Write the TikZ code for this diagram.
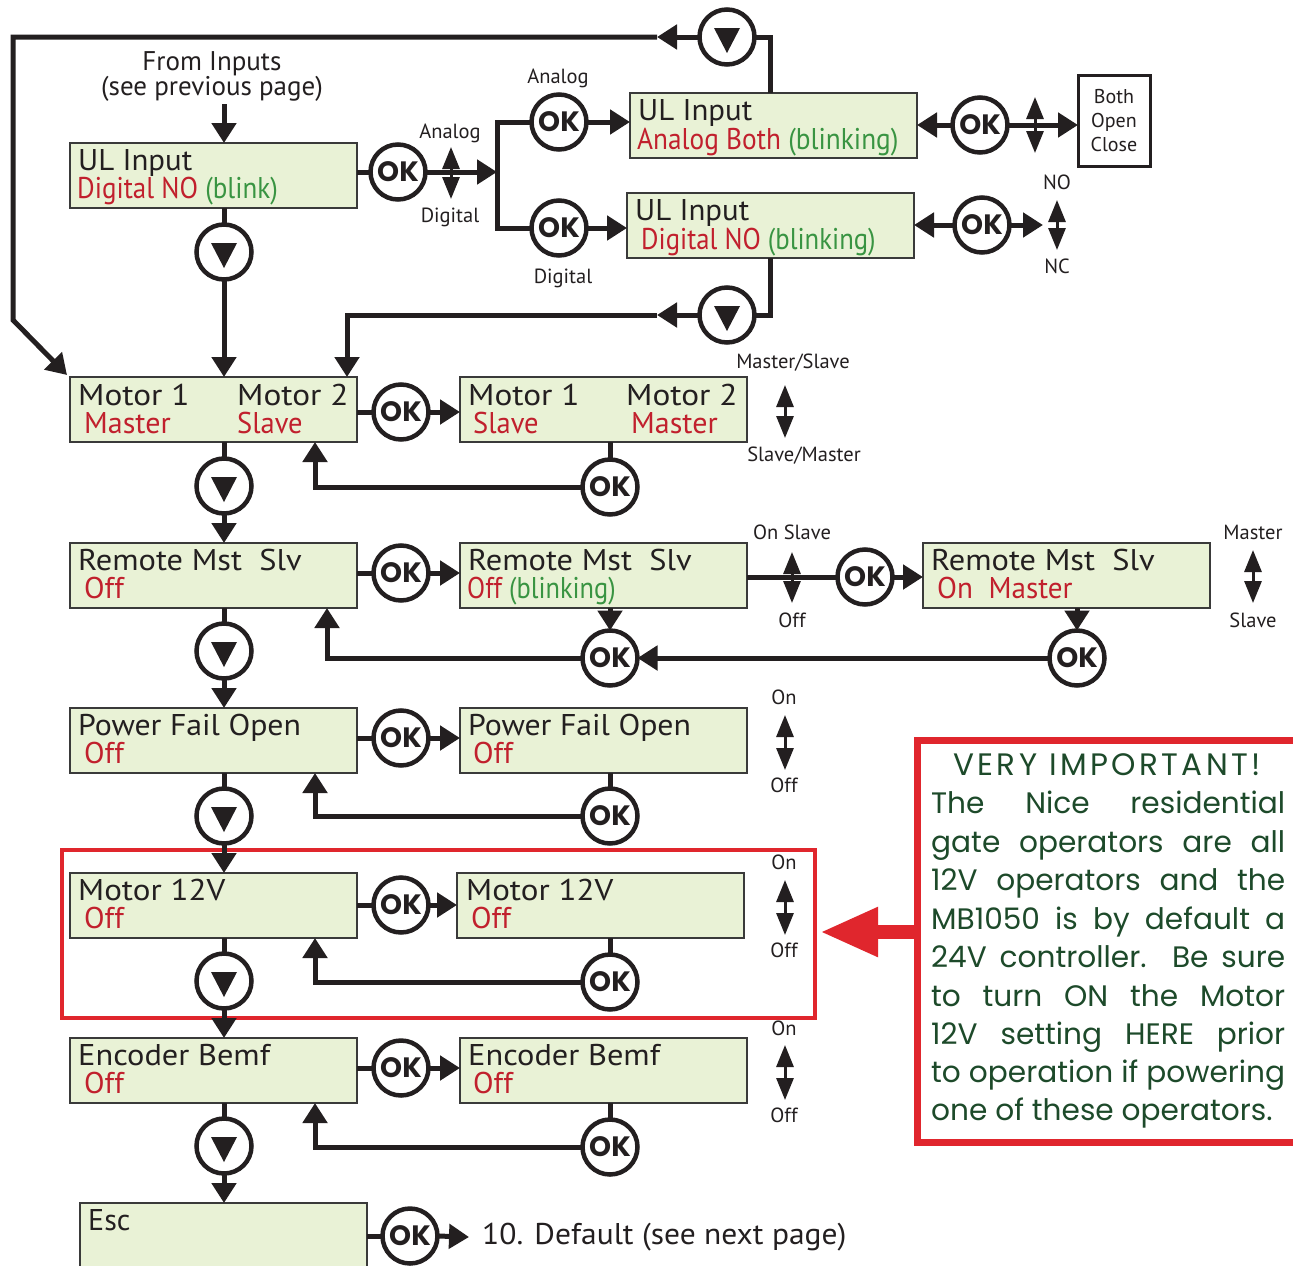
\documentclass[tikz,border=0pt]{standalone}
\usepackage{graphicx}
\usepackage{fontspec}
\setmainfont{PT Sans}
\newfontfamily\popf{Poppins}
\newfontfamily\popls{Poppins}[LetterSpace=11]
\usetikzlibrary{arrows.meta}
\definecolor{ink}{HTML}{231F20}
\definecolor{boxfill}{HTML}{E9F2D6}
\definecolor{boxline}{HTML}{3A3A3A}
\definecolor{lcdred}{HTML}{C1202D}
\definecolor{lcdgreen}{HTML}{399442}
\definecolor{alert}{HTML}{E0262D}
\definecolor{note}{HTML}{1D4A2A}
\newcommand\downmark[1]{\fill[ink] ([shift={(-13,-9)}]#1.center) -- ([shift={(13,-9)}]#1.center) -- ([shift={(0,16)}]#1.center) -- cycle;}
\newcommand\jline[1]{\makebox[354pt][s]{#1}}
\newcommand\redtx[1]{\textcolor{lcdred}{#1}}
\newcommand\grntx[1]{\textcolor{lcdgreen}{#1}}
\newcommand\hsc[2]{\scalebox{#1}[1]{#2}}
\tikzset{
  box/.style={draw=boxline,line width=2pt,fill=boxfill,anchor=north west,minimum width=287pt,minimum height=65pt,inner sep=0pt,outer sep=0pt},
  txt/.style={anchor=base west,inner sep=0pt,font=\fontsize{30}{30}\selectfont,text=ink},
  lbl/.style={anchor=base,inner sep=0pt,font=\fontsize{20.5}{20.5}\selectfont,text=ink},
  ok/.style={circle,draw=ink,fill=white,line width=4.5pt,minimum size=55pt,inner sep=0pt,outer sep=0pt,font=\popf\bfseries\fontsize{28}{28}\selectfont,text=ink},
  dn/.style={circle,draw=ink,fill=white,line width=4.5pt,minimum size=55pt,inner sep=0pt,outer sep=0pt},
  conn/.style={draw=ink,line width=5pt},
  arr/.style={conn,-{Triangle[length=20pt,width=24pt]}},
  dbl/.style={draw=ink,line width=3pt,{Triangle[length=22pt,width=17pt]}-{Triangle[length=22pt,width=17pt]}},
  notetx/.style={anchor=base west,inner sep=0pt,text=note,font=\popf\fontsize{29.6}{29.6}\selectfont},
}
\begin{document}
\begin{tikzpicture}[x=1pt,y=-1pt]
\useasboundingbox (0,0) rectangle (1293,1266);
\fill[white] (0,0) rectangle (1293,1266);

% column coordinates
\coordinate (xL) at (224,0);
\coordinate (xT) at (770,0);
\coordinate (xM2) at (347,0);
\coordinate (xRet) at (315,0);
\coordinate (xRet2) at (327,0);
\coordinate (fromEnd) at (224,104);

% red frame around Motor 12V
\node[draw=alert,line width=4.5pt,minimum width=753pt,minimum height=168pt,anchor=north west,inner sep=0pt,outer sep=0pt] (rf) at (62,850) {};

% ---------- top section ----------
\node[anchor=north,inner sep=0pt,align=center,text=ink,font=\fontsize{27}{24}\selectfont] (from) at (212,51) {From Inputs\\(see previous page)};

\node[box] (b1) at (70,143) {};
\node[txt] (b1t1) at (78,170) {\hsc{1.03}{UL Input}};
\node[txt] (b1t2) at (77,198) {\hsc{0.9}{\redtx{Digital NO} \grntx{(blink)}}};
\draw[arr] (fromEnd) -- (b1.north -| xL);

\node[ok] (ok1) at (398,172) {OK};
\draw[conn] (b1.east |- ok1) -- (ok1.west);
\coordinate (br) at (497,172);
\node[ok] (okA) at (559,122) {OK};
\node[ok] (okD) at (559,228) {OK};
\draw[conn] (okA.west) -| (br) |- (okD.west);
\draw[arr] (ok1.east) -- (br);
\draw[dbl] (451,147) -- (451,199);
\node[lbl] (lanalog1) at (450,138) {Analog};
\node[lbl] (ldigital1) at (450,222) {Digital};
\node[lbl] (lanalog2) at (558,83) {Analog};
\node[lbl] (ldigital2) at (563,283) {Digital};

\node[box] (an) at (630,93) {};
\node[txt] (ant1) at (638,120) {\hsc{1.03}{UL Input}};
\node[txt] (ant2) at (637,149) {\hsc{0.91}{\redtx{Analog Both} \grntx{(blinking)}}};
\node[box] (dg) at (627,193) {};
\node[txt] (dgt1) at (635,220) {\hsc{1.03}{UL Input}};
\node[txt] (dgt2) at (641,249) {\hsc{0.89}{\redtx{Digital NO} \grntx{(blinking)}}};
\draw[arr] (okA.east) -- (an.west |- okA);
\draw[arr] (okD.east) -- (dg.west |- okD);

\node[draw=ink,line width=3pt,fill=white,anchor=north west,minimum width=72pt,minimum height=91pt,inner sep=0pt,outer sep=0pt,align=center,font=\fontsize{20}{24}\selectfont,text=ink] (boc) at (1078,75) {Both\\Open\\Close};
\node[ok] (okA2) at (980,125) {OK};
\draw[arr] (okA2.west) -- (an.east |- okA2);
\draw[arr] (okA2.east) -- (boc.west |- okA2);
\draw[dbl] (1035,97) -- (1035,153);

\node[ok] (okD2) at (982,225) {OK};
\coordinate (nd) at (1043,225);
\draw[arr] (okD2.west) -- (dg.east |- okD2);
\draw[arr] (okD2.east) -- (nd);
\draw[dbl] (1057,200) -- (1057,250);
\node[lbl] (lno) at (1057,189) {NO};
\node[lbl] (lnc) at (1057,273) {NC};

% top loop
\node[dn] (dtop) at (727,37) {};
\downmark{dtop}
\draw[conn] (an.north -| xT) |- (dtop.east);
\coordinate (ta) at (657,37);
\coordinate (lc1) at (13,37);
\coordinate (lc2) at (13,320);
\draw[arr] (dtop.west) -- (ta);

% bottom loop
\node[dn] (dbot) at (727,315) {};
\downmark{dbot}
\draw[conn] (dg.south -| xT) |- (dbot.east);
\coordinate (tb) at (657,315);
\draw[arr] (dbot.west) -- (tb);

% ---------- Motor 1/2 ----------
\node[box] (ml) at (70,377) {};
\node[txt] (mlt1) at (78,405) {\hsc{1.11}{Motor 1}};
\node[txt] (mlt2) at (237,405) {\hsc{1.11}{Motor 2}};
\node[txt] (mlt3) at (84,433) {\redtx{Master}};
\node[txt] (mlt4) at (237,433) {\hsc{0.95}{\redtx{Slave}}};
\draw[arr] (ta) -- (lc1) -- (lc2) -- ([shift={(-3,-2)}]ml.north west);
\draw[arr] (tb) -| (ml.north -| xM2);

\node[dn] (d1) at (224,252) {};
\downmark{d1}
\draw[conn] (b1.south -| xL) -- (d1.north);
\draw[arr] (d1.south) -- (ml.north -| xL);

\node[ok] (okM) at (401,412) {OK};
\node[box] (mr) at (460,377) {};
\node[txt] (mrt1) at (468,405) {\hsc{1.11}{Motor 1}};
\node[txt] (mrt2) at (626,405) {\hsc{1.11}{Motor 2}};
\node[txt] (mrt3) at (473,433) {\hsc{0.95}{\redtx{Slave}}};
\node[txt] (mrt4) at (631,433) {\redtx{Master}};
\draw[conn] (ml.east |- okM) -- (okM.west);
\draw[arr] (okM.east) -- (mr.west |- okM);
\node[ok] (okM2) at (610,487) {OK};
\draw[conn] (mr.south -| okM2) -- (okM2.north);
\draw[arr] (okM2.west) -| (ml.south -| xRet);
\node[lbl] (lms) at (793,368) {Master/Slave};
\draw[dbl] (785,385) -- (785,438);
\node[lbl] (lsm) at (804,461) {Slave/Master};

% ---------- Remote ----------
\node[box] (rl) at (70,543) {};
\node[txt] (rlt1) at (78,570) {\hsc{1.08}{Remote Mst\ \ Slv}};
\node[txt] (rlt2) at (84,598) {\redtx{Off}};
\node[dn] (dM) at (224,486) {};
\downmark{dM}
\draw[conn] (ml.south -| xL) -- (dM.north);
\draw[arr] (dM.south) -- (rl.north -| xL);

\node[ok] (okR) at (401,573) {OK};
\node[box] (rr) at (460,543) {};
\node[txt] (rrt1) at (468,570) {\hsc{1.08}{Remote Mst\ \ Slv}};
\node[txt] (rrt2) at (467,598) {\hsc{0.88}{\redtx{Off} \grntx{(blinking)}}};
\draw[conn] (rl.east |- okR) -- (okR.west);
\draw[arr] (okR.east) -- (rr.west |- okR);

\node[ok] (okR2) at (865,577) {OK};
\node[box] (rr2) at (923,543) {};
\node[txt] (rr2t1) at (931,570) {\hsc{1.08}{Remote Mst\ \ Slv}};
\node[txt] (rr2t2) at (937,598) {\hsc{0.97}{\redtx{On\ \ Master}}};
\draw[conn] (rr.east |- okR2) -- (okR2.west);
\draw[arr] (okR2.east) -- (rr2.west |- okR2);
\draw[dbl] (792,552) -- (792,603);
\node[lbl] (lonslave) at (792,539) {On Slave};
\node[lbl] (loff1) at (792,627) {Off};
\node[lbl] (lmaster) at (1253,539) {Master};
\draw[dbl] (1253,550) -- (1253,603);
\node[lbl] (lslave) at (1253,627) {Slave};

\node[ok] (okR3) at (610,658) {OK};
\node[ok] (okR4) at (1077,658) {OK};
\draw[arr] (rr.south -| okR3) -- (okR3.north);
\draw[arr] (rr2.south -| okR4) -- (okR4.north);
\draw[arr] (okR4.west) -- (okR3.east);
\draw[arr] (okR3.west) -| (rl.south -| xRet2);

% ---------- Power Fail ----------
\node[box] (pl) at (70,708) {};
\node[txt] (plt1) at (78,735) {\hsc{1.06}{Power Fail Open}};
\node[txt] (plt2) at (84,763) {\redtx{Off}};
\node[dn] (dR) at (224,651) {};
\downmark{dR}
\draw[conn] (rl.south -| xL) -- (dR.north);
\draw[arr] (dR.south) -- (pl.north -| xL);

\node[ok] (okP) at (401,738) {OK};
\node[box] (pr) at (460,708) {};
\node[txt] (prt1) at (468,735) {\hsc{1.06}{Power Fail Open}};
\node[txt] (prt2) at (473,763) {\redtx{Off}};
\draw[conn] (pl.east |- okP) -- (okP.west);
\draw[arr] (okP.east) -- (pr.west |- okP);
\node[ok] (okP2) at (610,816) {OK};
\draw[conn] (pr.south -| okP2) -- (okP2.north);
\draw[arr] (okP2.west) -| (pl.south -| xRet);
\node[lbl] (lon2) at (784,704) {On};
\draw[dbl] (785,715) -- (785,770);
\node[lbl] (loff2) at (784,792) {Off};

% ---------- Motor 12V ----------
\node[box] (m12l) at (70,873) {};
\node[txt] (m12lt1) at (78,900) {\hsc{1.1}{Motor 12V}};
\node[txt] (m12lt2) at (84,928) {\redtx{Off}};
\node[dn] (dP) at (224,816) {};
\downmark{dP}
\draw[conn] (pl.south -| xL) -- (dP.north);
\draw[arr] (dP.south) -- (m12l.north -| xL);

\node[ok] (ok12) at (401,905) {OK};
\node[box] (m12r) at (457,873) {};
\node[txt] (m12rt1) at (466,900) {\hsc{1.1}{Motor 12V}};
\node[txt] (m12rt2) at (471,928) {\redtx{Off}};
\draw[conn] (m12l.east |- ok12) -- (ok12.west);
\draw[arr] (ok12.east) -- (m12r.west |- ok12);
\node[ok] (ok12b) at (610,982) {OK};
\draw[conn] (m12r.south -| ok12b) -- (ok12b.north);
\draw[arr] (ok12b.west) -| (m12l.south -| xRet);
\node[lbl] (lon3) at (784,869) {On};
\draw[dbl] (785,880) -- (785,935);
\node[lbl] (loff3) at (784,957) {Off};

% ---------- Encoder ----------
\node[box] (el) at (70,1038) {};
\node[txt] (elt1) at (78,1065) {\hsc{1.08}{Encoder Bemf}};
\node[txt] (elt2) at (84,1093) {\redtx{Off}};
\node[dn] (d12) at (224,981) {};
\downmark{d12}
\draw[conn] (m12l.south -| xL) -- (d12.north);
\draw[arr] (d12.south) -- (el.north -| xL);

\node[ok] (okE) at (401,1068) {OK};
\node[box] (er) at (460,1038) {};
\node[txt] (ert1) at (468,1065) {\hsc{1.08}{Encoder Bemf}};
\node[txt] (ert2) at (473,1093) {\redtx{Off}};
\draw[conn] (el.east |- okE) -- (okE.west);
\draw[arr] (okE.east) -- (er.west |- okE);
\node[ok] (okE2) at (610,1147) {OK};
\draw[conn] (er.south -| okE2) -- (okE2.north);
\draw[arr] (okE2.west) -| (el.south -| xRet);
\node[lbl] (lon4) at (784,1035) {On};
\draw[dbl] (785,1045) -- (785,1100);
\node[lbl] (loff4) at (784,1122) {Off};

% ---------- Esc ----------
\node[box,minimum height=90pt] (esc) at (80,1203) {};
\node[txt] (esct) at (88,1230) {Esc};
\node[dn] (dE) at (224,1146) {};
\downmark{dE}
\draw[conn] (el.south -| xL) -- (dE.north);
\draw[arr] (dE.south) -- (esc.north -| xL);
\node[ok] (okX) at (410,1236) {OK};
\node[txt,anchor=west] (dflt) at (482,1237) {\hsc{1.05}{10. Default (see next page)}};
\draw[conn] (esc.east |- okX) -- (okX.west);
\draw[arr] (okX.east) -- ([xshift=-13pt]dflt.west);

% ---------- important note ----------
\node[draw=alert,line width=7pt,fill=white,anchor=north west,minimum width=390pt,minimum height=402pt,inner sep=0pt,outer sep=0pt] (imp) at (917,740) {};
\coordinate (ra) at (820,932);
\draw[alert,line width=14pt,-{Triangle[length=58pt,width=46pt]}] (imp.west |- ra) -- (ra);
\node[notetx,anchor=base,font=\popls\fontsize{31}{31}\selectfont] (n0) at (1107,775) {VERY IMPORTANT!};
\node[notetx] (n1) at (931,813) {\jline{The Nice residential}};
\node[notetx] (n2) at (931,852) {\jline{gate operators are all}};
\node[notetx] (n3) at (931,890) {\jline{12V operators and the}};
\node[notetx] (n4) at (931,929) {\jline{MB1050 is by default a}};
\node[notetx] (n5) at (931,967) {\jline{24V controller. Be sure}};
\node[notetx] (n6) at (931,1006) {\jline{to turn ON the Motor}};
\node[notetx] (n7) at (931,1044) {\jline{12V setting HERE prior}};
\node[notetx] (n8) at (931,1082) {\jline{to operation if powering}};
\node[notetx] (n9) at (931,1120) {one of these operators.};
\end{tikzpicture}
\end{document}
